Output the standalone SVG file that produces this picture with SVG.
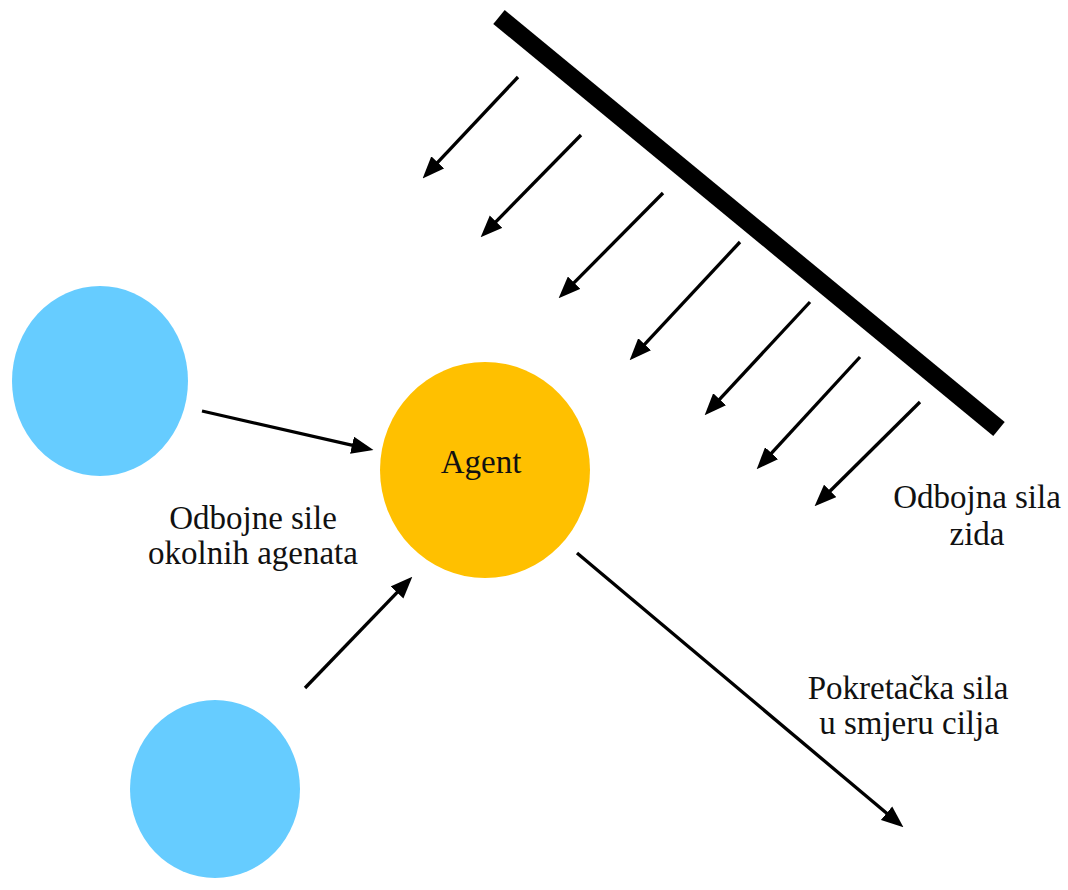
<svg xmlns="http://www.w3.org/2000/svg" width="1068" height="890" viewBox="0 0 1068 890">
<style>
.lbl{font-family:'Liberation Serif','Times New Roman','DejaVu Serif',serif;font-size:33px;fill:#111;text-anchor:middle}
.con{stroke:#000;stroke-width:3.3;fill:none;marker-end:url(#ah)}
</style>
<defs>
<marker id="ah" markerUnits="userSpaceOnUse" markerWidth="22" markerHeight="18" viewBox="0 0 20 16" refX="15" refY="8" orient="auto">
<path d="M0,0 L20,8 L0,16 z" fill="#000"/>
</marker>
</defs>
<rect width="1068" height="890" fill="#fff"/>
<g id="wall">
<line x1="499" y1="17" x2="999" y2="429" stroke="#000" stroke-width="18"/>
</g>
<g id="agent-left">
<ellipse cx="100" cy="381" rx="88" ry="95" fill="#66CCFF"/>
</g>
<g id="agent-bottom">
<ellipse cx="215" cy="789" rx="85" ry="89" fill="#66CCFF"/>
</g>
<g id="agent">
<ellipse cx="485" cy="470" rx="105" ry="108" fill="#FFC000"/>
<text class="lbl" x="481" y="473">Agent</text>
</g>
<g id="connectors">
<line class="con" x1="518" y1="77" x2="426.4" y2="174.4"/>
<line class="con" x1="581" y1="135" x2="484.5" y2="233.4"/>
<line class="con" x1="663" y1="193" x2="562.5" y2="294.4"/>
<line class="con" x1="740" y1="242" x2="633.4" y2="356.3"/>
<line class="con" x1="810" y1="302" x2="708.4" y2="411.3"/>
<line class="con" x1="860" y1="357" x2="760.4" y2="465.3"/>
<line class="con" x1="920" y1="402" x2="818.5" y2="502.5"/>
<line class="con" x1="202" y1="411" x2="368.1" y2="448.9"/>
<line class="con" x1="305" y1="688" x2="408.5" y2="580.6"/>
<line class="con" x1="577" y1="553" x2="899.2" y2="823.8"/>
</g>
<g id="labels">
<text class="lbl" x="253" y="529">Odbojne sile</text>
<text class="lbl" x="253" y="564">okolnih agenata</text>
<text class="lbl" x="977" y="508">Odbojna sila</text>
<text class="lbl" x="977" y="545">zida</text>
<text class="lbl" x="908" y="699">Pokretačka sila</text>
<text class="lbl" x="909" y="734">u smjeru cilja</text>
</g>
</svg>
